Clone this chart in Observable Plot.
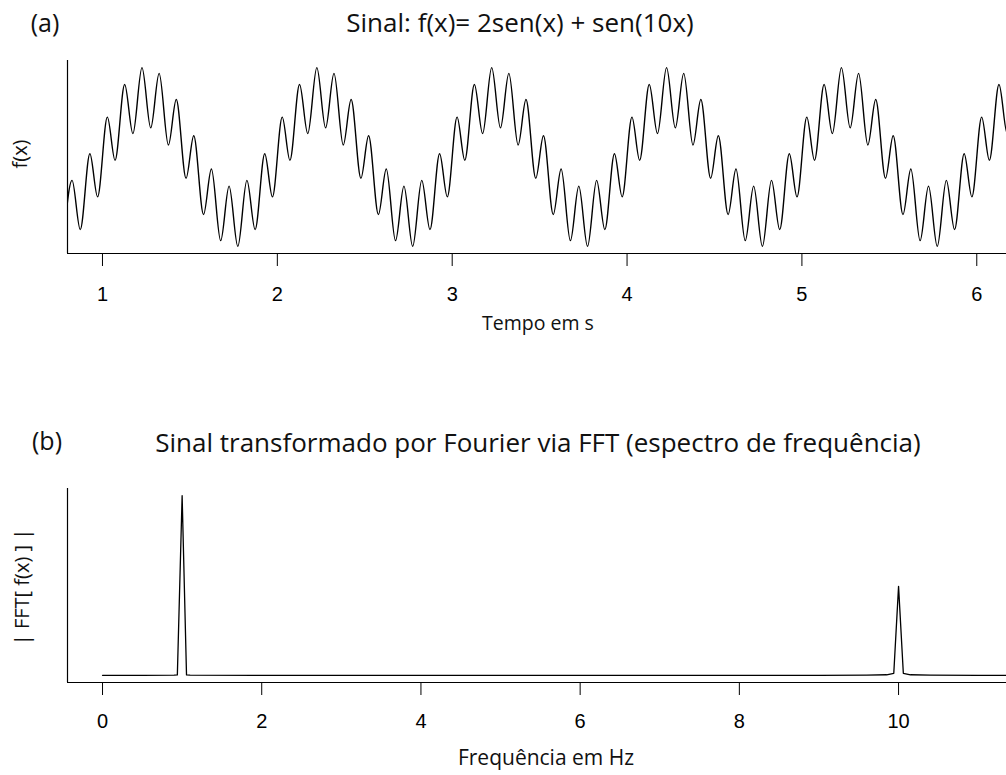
<!DOCTYPE html>
<html><head><meta charset="utf-8">
<script src="https://cdn.jsdelivr.net/npm/d3@7"></script>
<script src="https://cdn.jsdelivr.net/npm/@observablehq/plot@0.6"></script>
<style>
body{margin:0;background:#fff;}
#wrap{position:relative;width:1006px;height:775px;overflow:hidden;background:#fff;}
#wrap > svg{position:absolute;left:0;}
</style></head><body><div id="wrap"></div>
<script>
// Signal extrema: time (s) and f(x)
const sigT = [
  0.774, 0.826, 0.873, 0.928, 0.972,
  1.028, 1.072, 1.127, 1.174, 1.226, 1.276, 1.324, 1.377, 1.422, 1.478, 1.522, 1.578, 1.623, 1.676, 1.724, 1.774, 1.826, 1.873, 1.928, 1.972,
  2.028, 2.072, 2.127, 2.174, 2.226, 2.276, 2.324, 2.377, 2.422, 2.478, 2.522, 2.578, 2.623, 2.676, 2.724, 2.774, 2.826, 2.873, 2.928, 2.972,
  3.028, 3.072, 3.127, 3.174, 3.226, 3.276, 3.324, 3.377, 3.422, 3.478, 3.522, 3.578, 3.623, 3.676, 3.724, 3.774, 3.826, 3.873, 3.928, 3.972,
  4.028, 4.072, 4.127, 4.174, 4.226, 4.276, 4.324, 4.377, 4.422, 4.478, 4.522, 4.578, 4.623, 4.676, 4.724, 4.774, 4.826, 4.873, 4.928, 4.972,
  5.028, 5.072, 5.127, 5.174, 5.226, 5.276, 5.324, 5.377, 5.422, 5.478, 5.522, 5.578, 5.623, 5.676, 5.724, 5.774, 5.826, 5.873, 5.928, 5.972,
  6.028, 6.072, 6.127, 6.174, 6.226, 6.276
];
const sigV = [
  -2.98, -0.78, -2.42, 0.11, -1.33,
  1.33, -0.11, 2.42, 0.78, 2.98, 0.97, 2.79, 0.40, 1.92, -0.71, 0.71, -1.92, -0.40, -2.79, -0.97, -2.98, -0.78, -2.42, 0.11, -1.33,
  1.33, -0.11, 2.42, 0.78, 2.98, 0.97, 2.79, 0.40, 1.92, -0.71, 0.71, -1.92, -0.40, -2.79, -0.97, -2.98, -0.78, -2.42, 0.11, -1.33,
  1.33, -0.11, 2.42, 0.78, 2.98, 0.97, 2.79, 0.40, 1.92, -0.71, 0.71, -1.92, -0.40, -2.79, -0.97, -2.98, -0.78, -2.42, 0.11, -1.33,
  1.33, -0.11, 2.42, 0.78, 2.98, 0.97, 2.79, 0.40, 1.92, -0.71, 0.71, -1.92, -0.40, -2.79, -0.97, -2.98, -0.78, -2.42, 0.11, -1.33,
  1.33, -0.11, 2.42, 0.78, 2.98, 0.97, 2.79, 0.40, 1.92, -0.71, 0.71, -1.92, -0.40, -2.79, -0.97, -2.98, -0.78, -2.42, 0.11, -1.33,
  1.33, -0.11, 2.42, 0.78, 2.98, 0.97
];
// Spectrum: frequency (Hz) and |FFT|
const specF = [0, 0.5, 0.9, 0.94, 1.0, 1.055, 1.1, 2, 3, 4, 5, 6, 7, 8, 9, 9.6, 9.85, 9.94, 10.0, 10.06, 10.15, 10.4, 11, 12];
const specA = [0.02, 0.02, 0.021, 0.025, 2.0, 0.025, 0.021, 0.02, 0.02, 0.02, 0.02, 0.02, 0.02, 0.02, 0.02, 0.021, 0.026, 0.042, 1.0, 0.042, 0.026, 0.022, 0.02, 0.02];
const timeTicks = [1, 2, 3, 4, 5, 6];
const freqTicks = [0, 2, 4, 6, 8, 10];
const timeDomain = [0.8, 6.17];
const freqDomain = [-0.44, 11.356];

const signal = sigT.map((t, i) => ({t, v: sigV[i]}));
const spectrum = specF.map((f, i) => ({f, a: specA[i]}));
function padded(vals) {
  const [lo, hi] = d3.extent(vals);
  const p = (hi - lo) * 0.04;
  return [lo - p, hi + p];
}
const yDomA = padded(sigV);
const yDomB = padded(specA);
const axisStyle = {background: "transparent", fontFamily: "'Liberation Sans', Arial, sans-serif", fontSize: "20px", color: "#000", overflow: "visible"};

const plotA = Plot.plot({
  width: 1006, height: 340,
  marginLeft: 67, marginRight: 0, marginTop: 60, marginBottom: 87,
  style: axisStyle,
  x: {domain: timeDomain, ticks: timeTicks, tickSize: 13, tickPadding: 20, label: null, tickFormat: d => String(d)},
  y: {domain: yDomA, axis: null},
  marks: [
    Plot.line(signal, {x: "t", y: "v", curve: "monotone-x", stroke: "#000", strokeWidth: 1.4, clip: true}),
    Plot.ruleX([timeDomain[0]], {stroke: "#000", strokeWidth: 1.2}),
    Plot.ruleY([yDomA[0]], {stroke: "#000", strokeWidth: 1.2})
  ]
});
plotA.style.top = "0px";

const plotB = Plot.plot({
  width: 1006, height: 375,
  marginLeft: 67, marginRight: 0, marginTop: 88, marginBottom: 93,
  style: axisStyle,
  x: {domain: freqDomain, ticks: freqTicks, tickSize: 13, tickPadding: 18, label: null, tickFormat: d => String(d)},
  y: {domain: yDomB, axis: null},
  marks: [
    Plot.line(spectrum, {x: "f", y: "a", stroke: "#000", strokeWidth: 1.3, clip: true}),
    Plot.ruleX([freqDomain[0]], {stroke: "#000", strokeWidth: 1.2}),
    Plot.ruleY([yDomB[0]], {stroke: "#000", strokeWidth: 1.2})
  ]
});
plotB.style.top = "400px";

const wrap = document.getElementById("wrap");
wrap.appendChild(plotA);
wrap.appendChild(plotB);

// Text overlay (titles, panel tags, axis labels)
const ns = "http://www.w3.org/2000/svg";
const ov = document.createElementNS(ns, "svg");
ov.setAttribute("width", 1006); ov.setAttribute("height", 775);
ov.style.top = "0px"; ov.style.pointerEvents = "none";
ov.style.fontFamily = "'Open Sans', 'Noto Sans', sans-serif";
const labels = [
  {t: "(a)", x: 45, y: 32, s: 25},
  {t: "Sinal: f(x)= 2sen(x) + sen(10x)", x: 520, y: 32, s: 26},
  {t: "Tempo em s", x: 538, y: 330, s: 19.5},
  {t: "f(x)", x: 27, y: 154, s: 20, r: true},
  {t: "(b)", x: 47, y: 450, s: 25},
  {t: "Sinal transformado por Fourier via FFT (espectro de frequência)", x: 538, y: 452, s: 26},
  {t: "Frequência em Hz", x: 546, y: 765, s: 21},
  {t: "| FFT[ f(x) ] |", x: 29, y: 587, s: 20, r: true}
];
for (const l of labels) {
  const e = document.createElementNS(ns, "text");
  e.textContent = l.t;
  e.setAttribute("text-anchor", "middle");
  e.setAttribute("font-size", l.s);
  e.setAttribute("fill", "#111");
  if (l.r) e.setAttribute("transform", `translate(${l.x},${l.y}) rotate(-90)`);
  else { e.setAttribute("x", l.x); e.setAttribute("y", l.y); }
  ov.appendChild(e);
}
wrap.appendChild(ov);
</script></body></html>
